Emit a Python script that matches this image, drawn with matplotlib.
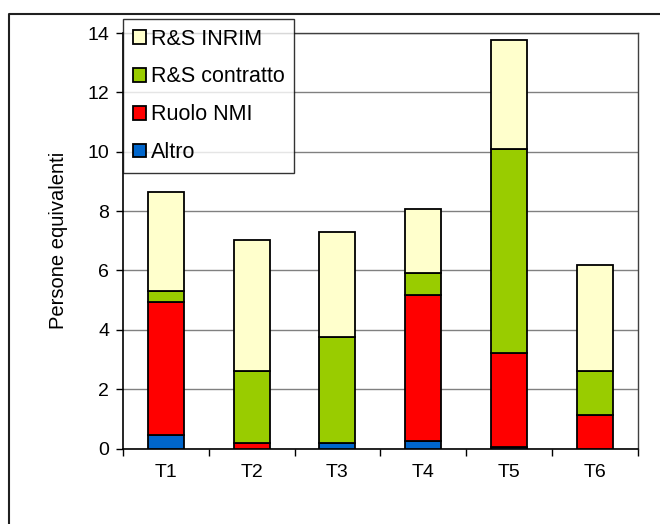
import matplotlib
matplotlib.use("Agg")
import matplotlib.pyplot as plt
from matplotlib.lines import Line2D
import numpy as np

plt.rcParams['font.family'] = ['Liberation Sans', 'DejaVu Sans']

categories = ["T1", "T2", "T3", "T4", "T5", "T6"]
altro = [0.45, 0.0, 0.19, 0.26, 0.05, 0.0]
ruolo_nmi = [4.48, 0.19, 0.0, 4.91, 3.18, 1.12]
rs_contratto = [0.39, 2.43, 3.58, 0.75, 6.87, 1.49]
rs_inrim = [3.31, 4.39, 3.51, 2.16, 3.65, 3.58]

series = [
    ("Altro", altro, "#0066CC"),
    ("Ruolo NMI", ruolo_nmi, "#FF0000"),
    ("R&S contratto", rs_contratto, "#99CC00"),
    ("R&S INRIM", rs_inrim, "#FFFFCC"),
]

W, H = 660, 524
fig = plt.figure(figsize=(W / 100, H / 100), dpi=100)
ax = fig.add_axes([123 / W, 1 - 448.5 / H, (637.5 - 123) / W, (448.5 - 33) / H])

x = np.arange(len(categories))
bottom = np.zeros(len(categories))
handles = []
for name, vals, col in series:
    v = np.array(vals)
    b = ax.bar(x, v, width=0.42, bottom=bottom, color=col, edgecolor="black",
               linewidth=1.3, label=name, zorder=3)
    handles.append(b)
    bottom += v

ax.set_xlim(-0.5, len(categories) - 0.5)
ax.set_ylim(0, 14)
ax.set_yticks(np.arange(0, 15, 2))
ax.yaxis.grid(True, color="#808080", linewidth=1.0, zorder=0)
ax.set_axisbelow(True)

ax.set_xticks(x)
ax.set_xticklabels(categories)
ax.set_xticks(np.arange(-0.5, len(categories), 1.0), minor=True)
ax.tick_params(axis="x", which="major", length=0, pad=11, labelsize=14)
ax.tick_params(axis="x", which="minor", length=5, width=1, direction="out")
ax.tick_params(axis="y", length=5, width=1, direction="out", labelsize=14, pad=5)

for s in ["top", "right"]:
    ax.spines[s].set_color("#404040")
    ax.spines[s].set_linewidth(1.0)
for s in ["left", "bottom"]:
    ax.spines[s].set_color("black")
    ax.spines[s].set_linewidth(1.2)

ax.set_ylabel("Persone equivalenti", fontsize=14.5, labelpad=14)

leg = ax.legend(handles[::-1], [s[0] for s in series[::-1]],
                loc="upper left", bbox_to_anchor=(123 / W, 1 - 19 / H),
                bbox_transform=fig.transFigure, borderaxespad=0,
                fontsize=15.5, frameon=True, fancybox=False, handlelength=0.6,
                handleheight=0.6, handletextpad=0.25, labelspacing=0.78,
                borderpad=0.45)
leg.get_frame().set_edgecolor("black")
leg.get_frame().set_linewidth(1.0)
leg.set_zorder(10)

fig.add_artist(Line2D([8.5 / W, 8.5 / W, 1.0], [0.0, 1 - 13.5 / H, 1 - 13.5 / H],
                      transform=fig.transFigure, color="#202020", linewidth=1.5))

fig.savefig("out.png", dpi=100)
